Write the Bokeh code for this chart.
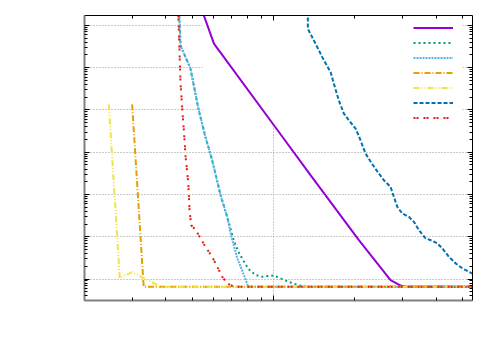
from bokeh.plotting import figure
from bokeh.models import (FixedTicker, LogAxis, Legend, LegendItem, BoxAnnotation,
                          CustomJSTickFormatter, Range1d)
from bokeh.embed import file_html
from bokeh.resources import INLINE

# ---- axes / ticks ----
x_start, x_end = 2.0, 54.4
y_start, y_end = 3.1e-7, 1.72
x_major_ticks = [10]
x_minor_ticks = [2, 3, 4, 5, 6, 7, 8, 9, 20, 30, 40, 50]
y_major_ticks = [1e-6, 1e-5, 1e-4, 1e-3, 1e-2, 1e-1, 1]
y_minor_ticks = [k * 10.0 ** n for n in range(-7, 1) for k in range(2, 10)]

# ---- series ----
s1_x = [5.36, 6.02, 10.35, 13.70, 20.68, 27.08, 29.49, 30.77, 54.4]
s1_y = [2.97, 0.37, 3.31e-3, 2.86e-4, 8.33e-6, 9.46e-7, 7.01e-7, 6.57e-7, 6.57e-7]

s2_x = [4.465, 4.53, 4.93, 5.29, 5.60, 5.93, 6.37, 6.74, 7.12, 7.42, 7.75, 8.08, 8.58,
        9.11, 9.58, 10.0, 10.35, 11.36, 12.37, 13.24, 54.4]
s2_y = [2.97, 0.337, 0.0949, 9.82e-3, 2.30e-3, 6.47e-4, 9.64e-5, 2.96e-5, 8.33e-6, 4.34e-6,
        2.66e-6, 1.72e-6, 1.24e-6, 1.13e-6, 1.18e-6, 1.22e-6, 1.11e-6, 8.62e-7, 7.09e-7,
        6.57e-7, 6.57e-7]

s3_x = [4.465, 4.53, 4.93, 5.29, 5.60, 5.93, 6.37, 6.74, 6.99, 7.34, 7.77, 8.06, 54.4]
s3_y = [2.97, 0.337, 0.0949, 9.82e-3, 2.30e-3, 6.47e-4, 9.64e-5, 2.96e-5, 9.81e-6, 3.13e-6,
        1.24e-6, 6.57e-7, 6.57e-7]

s4_x = [3.0, 3.31, 54.4]
s4_y = [0.0136, 6.57e-7, 6.57e-7]

s5_x = [2.46, 2.70, 3.0, 3.82, 54.4]
s5_y = [0.0136, 1.055e-6, 1.46e-6, 6.57e-7, 6.57e-7]

s6_x = [13.39, 13.39, 14.30, 15.14, 16.25, 16.71, 17.43, 18.20, 18.98, 20.11, 20.97, 21.89,
        23.17, 24.51, 25.58, 27.08, 27.86, 28.68, 29.92, 31.65, 33.03, 34.46, 36.49, 38.64,
        40.32, 42.07, 44.49, 47.11, 49.88, 53.54, 54.66]
s6_y = [2.97, 0.836, 0.3695, 0.178, 0.0788, 0.042, 0.0169, 8.2e-3, 5.7e-3, 3.63e-3, 1.92e-3,
        9.31e-4, 5.2e-4, 3.14e-4, 2.18e-4, 1.51e-4, 8.78e-5, 5.1e-5, 3.56e-5, 2.96e-5,
        2.25e-5, 1.44e-5, 9.14e-6, 8.02e-6, 6.97e-6, 5.31e-6, 3.36e-6, 2.35e-6, 1.79e-6,
        1.41e-6, 1.31e-6]

s7_x = [4.435, 4.48, 4.53, 4.60, 4.66, 4.73, 4.84, 4.89, 4.96, 5.15, 5.37, 5.60, 5.93,
        6.19, 6.46, 6.74, 7.13, 54.4]
s7_y = [2.97, 0.376, 0.0427, 9.82e-3, 3.31e-3, 7.74e-4, 1.85e-4, 4.26e-5, 1.89e-5, 1.44e-5,
        9.29e-6, 5.79e-6, 3.36e-6, 1.95e-6, 1.13e-6, 7.9e-7, 6.57e-7, 6.57e-7]

series = [
    (s1_x, s1_y, "#9400d3", None),
    (s2_x, s2_y, "#009e73", "2 3"),
    (s3_x, s3_y, "#56b4e9", "2 1"),
    (s4_x, s4_y, "#e69f00", "6 2 1 2"),
    (s5_x, s5_y, "#f0e442", "6 2 1 2 1 2"),
    (s6_x, s6_y, "#0072b2", "4 2"),
    (s7_x, s7_y, "#e51e10", "2 1 2 5"),
]

p = figure(frame_width=388, frame_height=285,
           x_axis_type="log", y_axis_type="log",
           x_range=Range1d(x_start, x_end), y_range=Range1d(y_start, y_end),
           output_backend="svg", toolbar_location=None,
           min_border_left=84, min_border_top=15, min_border_right=12, min_border_bottom=42)
p.outline_line_color = None
p.background_fill_color = "white"
p.border_fill_color = "white"

blank = CustomJSTickFormatter(code="return ''")
xt = FixedTicker(ticks=x_major_ticks, minor_ticks=x_minor_ticks)
yt = FixedTicker(ticks=y_major_ticks, minor_ticks=y_minor_ticks)


def style_axis(ax, color, width):
    ax.formatter = blank
    ax.major_label_standoff = 0
    ax.major_label_text_font_size = "1px"
    ax.axis_line_color = color
    ax.axis_line_width = width
    ax.major_tick_in = 5
    ax.major_tick_out = 0
    ax.minor_tick_in = 3
    ax.minor_tick_out = 0
    ax.major_tick_line_color = "black"
    ax.minor_tick_line_color = "black"


p.xaxis.ticker = xt
p.yaxis.ticker = yt
style_axis(p.xaxis[0], "#808080", 2)
style_axis(p.yaxis[0], "#808080", 2)
top_ax = LogAxis(ticker=xt)
right_ax = LogAxis(ticker=yt)
style_axis(top_ax, "black", 1)
style_axis(right_ax, "black", 1)
p.add_layout(top_ax, "above")
p.add_layout(right_ax, "right")

for g in (p.xgrid[0], p.ygrid[0]):
    g.grid_line_color = "#999999"
    g.grid_line_dash = "1 2"
    g.grid_line_width = 1
p.xgrid.ticker = xt
p.ygrid.ticker = yt

# opaque key box hides grid behind it
key_box = BoxAnnotation(left=5.46, right=50.0, bottom=0.0039, top=y_end,
                        fill_color="white", fill_alpha=1.0, line_color=None, level="underlay")
p.add_layout(key_box)

items = []
for xs, ys, col, dash in series:
    kw = dict(line_color=col, line_width=2)
    if dash:
        kw["line_dash"] = dash
    r = p.line(xs, ys, **kw)
    items.append(LegendItem(label=" ", renderers=[r]))

leg = Legend(items=items, location=(329, 175), glyph_width=40, glyph_height=15,
             label_height=15, label_width=10, label_standoff=0, spacing=0, padding=0,
             background_fill_alpha=0, border_line_alpha=0, label_text_font_size="8px")
p.add_layout(leg, "center")

open("out.html", "w").write(file_html(p, INLINE))
